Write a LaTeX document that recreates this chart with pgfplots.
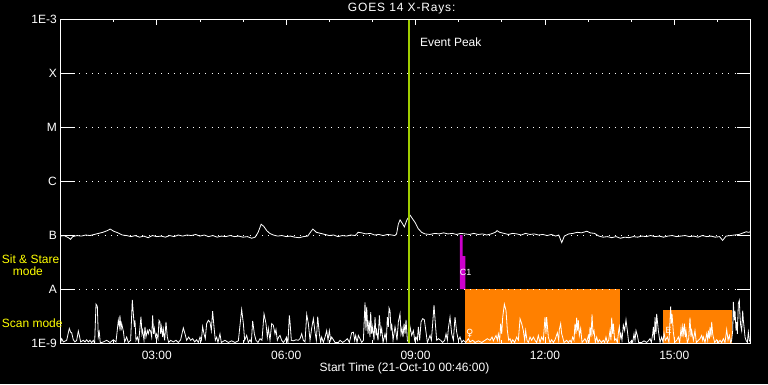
\documentclass[border=0pt]{standalone}
\usepackage{fontspec}
\setmainfont{Liberation Sans}
\newfontfamily\dejavu{DejaVu Sans}
\usepackage{pgfplots}
\pgfplotsset{compat=1.18}
\definecolor{evgreen}{RGB}{160,204,0}
\definecolor{magC}{RGB}{204,0,204}
\definecolor{orC}{RGB}{255,128,0}
\definecolor{yelC}{RGB}{255,255,0}
\newcommand{\fs}{\fontsize{12}{14}\selectfont}
\begin{document}
\begin{tikzpicture}
\path[use as bounding box, fill=black] (0,0) rectangle (768pt,384pt);
\begin{axis}[
  at={(60.5pt,41pt)}, anchor=south west,
  scale only axis, width=690pt, height=324pt,
  xmin=0.767, xmax=16.767, ymin=-9, ymax=-3,
  enlargelimits=false, axis on top,
  axis line style={white, line width=0.8pt},
  tick style={draw=none},
  xtick={3,6,9,12,15},
  xticklabels={03:00,06:00,09:00,12:00,15:00},
  ytick={-9,-8,-7,-6,-5,-4,-3},
  yticklabels={1E-9,A,B,C,M,X,1E-3},
  tick label style={font=\fs, text=white},
  xticklabel style={anchor=center, inner sep=0pt, yshift=-12pt},
  yticklabel style={anchor=east, inner sep=0pt, xshift=-3.5pt},
  ymajorgrids=true,
  major grid style={white, line width=0.8pt, dash pattern=on 0.8pt off 5.5pt},
]
% orange and magenta blocks
\addplot[fill=orC, draw=none] coordinates {(10.147,-9) (10.147,-8) (13.734,-8) (13.734,-9)} -- cycle;
\addplot[fill=orC, draw=none] coordinates {(14.738,-9) (14.738,-8.389) (16.331,-8.389) (16.331,-9)} -- cycle;
\addplot[fill=magC, draw=none] coordinates {(10.03,-8) (10.03,-7.0) (10.09,-7.0) (10.09,-7.39) (10.155,-7.39) (10.155,-8)} -- cycle;
% GOES flux (log10 W/m^2)
\addplot[white, line width=0.8pt, sharp plot] coordinates {
(0.77,-7.02) (0.85,-7.01) (0.95,-7.05) (1.00,-7.08) (1.05,-7.03) (1.15,-7.01) (1.25,-7.02) (1.35,-7.00)
(1.45,-7.01) (1.55,-6.99) (1.65,-6.97) (1.75,-6.95) (1.85,-6.92) (1.92,-6.89) (2.00,-6.93) (2.10,-6.96)
(2.20,-7.00) (2.30,-7.01) (2.40,-7.03) (2.50,-7.01) (2.60,-7.04) (2.70,-7.02) (2.80,-7.05) (2.90,-7.01)
(3.00,-7.03) (3.10,-7.02) (3.20,-7.04) (3.30,-7.01) (3.40,-7.03) (3.50,-7.00) (3.60,-7.02) (3.70,-7.00)
(3.80,-7.01) (3.90,-6.99) (4.00,-7.02) (4.10,-7.00) (4.20,-7.03) (4.30,-7.01) (4.40,-7.04) (4.50,-7.02)
(4.60,-7.03) (4.70,-7.01) (4.80,-7.03) (4.90,-7.02) (5.00,-7.04) (5.10,-7.03) (5.20,-7.06) (5.28,-7.04)
(5.35,-6.95) (5.42,-6.80) (5.48,-6.84) (5.55,-6.92) (5.62,-6.97) (5.70,-7.00) (5.80,-7.02) (5.90,-7.01)
(6.00,-7.03) (6.10,-7.02) (6.20,-7.04) (6.30,-7.05) (6.40,-7.03) (6.50,-7.02) (6.58,-6.93) (6.62,-6.89)
(6.70,-6.95) (6.80,-6.97) (6.90,-6.99) (7.00,-7.01) (7.10,-7.00) (7.20,-7.03) (7.30,-7.01) (7.40,-7.02)
(7.50,-7.00) (7.60,-7.01) (7.67,-6.95) (7.75,-6.96) (7.85,-6.98) (7.95,-6.97) (8.05,-7.00) (8.15,-6.99)
(8.25,-7.01) (8.35,-6.99) (8.45,-7.00) (8.52,-7.01) (8.56,-6.98) (8.60,-6.80) (8.64,-6.72) (8.69,-6.78)
(8.74,-6.85) (8.80,-6.72) (8.87,-6.63) (8.93,-6.70) (8.99,-6.77) (9.06,-6.88) (9.14,-6.95) (9.22,-6.98)
(9.33,-6.99) (9.45,-6.97) (9.55,-6.98) (9.65,-6.96) (9.75,-6.98) (9.85,-6.97) (9.95,-6.99) (10.05,-6.97)
(10.15,-6.98) (10.25,-6.99) (10.35,-6.97) (10.45,-6.99) (10.55,-6.98) (10.65,-7.00) (10.75,-6.98) (10.85,-6.95)
(10.89,-6.92) (10.95,-6.95) (11.05,-6.97) (11.15,-6.99) (11.25,-6.97) (11.35,-6.98) (11.45,-7.00) (11.55,-6.97)
(11.65,-6.99) (11.75,-6.98) (11.85,-7.00) (11.95,-6.99) (12.05,-7.01) (12.15,-6.99) (12.25,-7.02) (12.32,-7.00)
(12.39,-7.14) (12.45,-7.02) (12.55,-6.98) (12.65,-6.97) (12.75,-6.95) (12.85,-6.96) (12.97,-6.93) (13.05,-6.96)
(13.15,-6.97) (13.25,-7.02) (13.35,-7.04) (13.45,-7.03) (13.55,-7.05) (13.65,-7.03) (13.75,-7.06) (13.85,-7.04)
(13.95,-7.05) (14.05,-7.03) (14.15,-7.04) (14.25,-7.02) (14.35,-7.03) (14.45,-7.01) (14.55,-7.03) (14.65,-7.02)
(14.75,-7.04) (14.85,-7.02) (14.95,-7.01) (15.05,-7.03) (15.15,-7.02) (15.25,-7.01) (15.35,-7.03) (15.45,-7.02)
(15.55,-7.04) (15.65,-7.01) (15.75,-7.03) (15.85,-7.02) (15.95,-7.04) (16.05,-7.03) (16.12,-7.10) (16.20,-7.02)
(16.30,-7.01) (16.40,-7.00) (16.50,-6.99) (16.60,-6.96) (16.67,-6.94) (16.72,-6.95) (16.767,-6.94)
};
% scan-mode spikes
\addplot[white, line width=0.8pt, sharp plot] coordinates {
(0.767,-9) (0.794,-8.92) (0.832,-8.98) (0.910,-8.95) (0.971,-8.73) (1.002,-8.80) (1.026,-8.81) (1.064,-8.94)
(1.103,-8.98) (1.142,-8.95) (1.180,-8.78) (1.204,-8.86) (1.234,-8.98) (1.296,-8.95) (1.335,-8.98) (1.373,-8.94)
(1.412,-8.98) (1.451,-8.95) (1.489,-8.99) (1.528,-8.95) (1.559,-9) (1.590,-8.28) (1.621,-8.32) (1.644,-8.89)
(1.667,-8.80) (1.690,-9) (1.760,-8.98) (1.837,-8.95) (1.915,-8.99) (1.992,-8.94) (2.054,-8.98) (2.108,-8.58)
(2.131,-8.70) (2.146,-8.49) (2.170,-8.77) (2.185,-8.64) (2.224,-8.78) (2.255,-8.98) (2.301,-8.89) (2.340,-8.99)
(2.394,-8.95) (2.432,-8.20) (2.456,-8.46) (2.479,-8.70) (2.494,-8.58) (2.517,-8.95) (2.548,-8.89) (2.579,-8.99)
(2.633,-8.51) (2.656,-8.83) (2.672,-8.77) (2.703,-8.95) (2.726,-8.70) (2.749,-8.89) (2.780,-8.77) (2.803,-8.83)
(2.827,-8.75) (2.857,-8.78) (2.881,-8.89) (2.904,-8.49) (2.927,-8.83) (2.943,-8.73) (2.974,-8.89) (2.997,-8.83)
(3.028,-8.92) (3.051,-8.58) (3.074,-8.61) (3.090,-8.83) (3.113,-8.70) (3.136,-8.89) (3.152,-8.75) (3.182,-8.95)
(3.213,-8.61) (3.244,-8.89) (3.275,-8.99) (3.321,-8.95) (3.383,-8.98) (3.445,-8.95) (3.499,-8.99) (3.553,-8.94)
(3.615,-8.72) (3.654,-8.83) (3.692,-8.95) (3.739,-8.89) (3.785,-8.95) (3.832,-8.92) (3.878,-8.98) (3.924,-8.94)
(3.963,-8.99) (4.002,-8.89) (4.033,-8.95) (4.063,-8.70) (4.094,-8.83) (4.125,-8.92) (4.156,-8.64) (4.195,-8.58)
(4.233,-8.61) (4.264,-8.77) (4.295,-8.41) (4.326,-8.70) (4.357,-8.95) (4.388,-8.89) (4.419,-8.99) (4.465,-8.83)
(4.496,-8.99) (4.581,-8.95) (4.659,-8.99) (4.736,-8.96) (4.813,-8.99) (4.891,-8.96) (4.968,-8.38) (5.007,-8.64)
(5.037,-8.95) (5.084,-8.86) (5.122,-8.99) (5.161,-8.94) (5.192,-8.99) (5.223,-8.59) (5.262,-8.83) (5.300,-8.95)
(5.347,-8.99) (5.393,-8.92) (5.439,-8.95) (5.486,-8.46) (5.532,-8.64) (5.563,-8.89) (5.586,-8.73) (5.625,-8.95)
(5.664,-8.64) (5.702,-8.67) (5.741,-8.83) (5.764,-8.75) (5.795,-8.95) (5.826,-8.89) (5.857,-8.86) (5.895,-8.95)
(5.934,-8.99) (5.973,-8.95) (6.011,-8.89) (6.042,-8.99) (6.073,-8.49) (6.089,-8.61) (6.120,-8.95) (6.166,-8.96)
(6.228,-8.94) (6.282,-8.95) (6.321,-8.92) (6.360,-8.83) (6.398,-8.95) (6.437,-8.98) (6.476,-8.47) (6.514,-8.64)
(6.553,-8.95) (6.591,-8.73) (6.630,-8.55) (6.669,-8.80) (6.700,-8.95) (6.731,-8.51) (6.769,-8.83) (6.800,-8.99)
(6.823,-8.89) (6.862,-8.99) (6.901,-8.89) (6.939,-8.77) (6.970,-8.95) (7.001,-8.77) (7.032,-8.95) (7.055,-8.89)
(7.094,-8.94) (7.133,-8.99) (7.210,-8.99) (7.249,-8.95) (7.310,-8.99) (7.364,-8.96) (7.419,-8.92) (7.465,-8.99)
(7.519,-8.81) (7.558,-8.80) (7.589,-8.95) (7.612,-8.86) (7.643,-8.99) (7.674,-8.86) (7.712,-8.92) (7.751,-8.99)
(7.790,-8.95) (7.828,-8.25) (7.851,-8.77) (7.867,-8.33) (7.898,-8.83) (7.921,-8.58) (7.944,-8.89) (7.960,-8.43)
(7.983,-8.83) (8.006,-8.70) (8.037,-8.95) (8.060,-8.52) (8.083,-8.86) (8.099,-8.77) (8.130,-8.95) (8.161,-8.49)
(8.192,-8.83) (8.215,-8.73) (8.246,-8.99) (8.292,-8.83) (8.323,-8.95) (8.346,-8.52) (8.369,-8.70) (8.385,-8.35)
(8.408,-8.40) (8.431,-8.77) (8.447,-8.64) (8.478,-8.95) (8.524,-8.70) (8.547,-8.80) (8.570,-8.95) (8.601,-8.61)
(8.640,-8.46) (8.663,-8.83) (8.686,-8.73) (8.709,-8.89) (8.733,-8.64) (8.756,-8.83) (8.779,-8.57) (8.810,-8.95)
(8.841,-8.99) (8.872,-8.70) (8.910,-8.86) (8.949,-8.77) (8.980,-8.95) (9.011,-8.89) (9.042,-8.95) (9.065,-8.70)
(9.096,-8.95) (9.127,-8.61) (9.166,-8.55) (9.204,-8.57) (9.243,-8.80) (9.274,-8.99) (9.336,-8.86) (9.367,-8.95)
(9.397,-8.64) (9.428,-8.30) (9.459,-8.64) (9.490,-8.95) (9.529,-8.92) (9.583,-8.95) (9.629,-8.99) (9.676,-8.95)
(9.707,-8.83) (9.738,-8.95) (9.761,-8.73) (9.799,-8.52) (9.838,-8.83) (9.877,-8.95) (9.915,-8.52) (9.954,-8.80)
(9.993,-8.95) (10.031,-8.89) (10.070,-8.99) (10.109,-8.95) (10.163,-8.99) (10.225,-8.92) (10.263,-8.98) (10.325,-8.95)
(10.379,-8.99) (10.456,-8.96) (10.534,-8.99) (10.611,-8.95) (10.665,-8.92) (10.727,-8.95) (10.773,-8.89) (10.804,-8.96)
(10.866,-8.86) (10.897,-8.95) (10.920,-8.83) (10.951,-8.95) (10.974,-8.64) (10.998,-8.83) (11.021,-8.52) (11.059,-8.28)
(11.098,-8.40) (11.129,-8.77) (11.160,-8.95) (11.191,-8.92) (11.222,-8.99) (11.253,-8.94) (11.299,-8.99) (11.345,-8.89)
(11.384,-8.95) (11.423,-8.55) (11.461,-8.64) (11.499,-8.77) (11.530,-8.95) (11.553,-8.77) (11.584,-8.95) (11.615,-8.99)
(11.654,-8.89) (11.693,-8.95) (11.731,-8.89) (11.770,-8.95) (11.809,-8.99) (11.847,-8.86) (11.886,-8.99) (11.924,-8.89)
(11.963,-8.95) (12.002,-8.52) (12.025,-8.83) (12.040,-8.52) (12.079,-8.89) (12.118,-8.99) (12.156,-8.94) (12.195,-8.99)
(12.234,-8.94) (12.288,-8.81) (12.319,-8.95) (12.334,-8.75) (12.365,-8.64) (12.388,-8.83) (12.411,-8.89) (12.442,-8.99)
(12.504,-8.95) (12.543,-8.99) (12.582,-8.95) (12.612,-8.99) (12.643,-8.89) (12.674,-8.95) (12.697,-8.64) (12.721,-8.83)
(12.736,-8.53) (12.759,-8.77) (12.775,-8.58) (12.798,-8.86) (12.829,-8.73) (12.860,-8.99) (12.929,-8.92) (12.968,-8.99)
(13.007,-8.86) (13.030,-8.95) (13.045,-8.70) (13.068,-8.89) (13.092,-8.47) (13.115,-8.83) (13.138,-8.77) (13.169,-8.99)
(13.200,-8.89) (13.231,-8.99) (13.262,-8.94) (13.308,-8.99) (13.355,-8.95) (13.385,-8.99) (13.416,-8.89) (13.447,-8.99)
(13.478,-8.95) (13.509,-8.77) (13.532,-8.95) (13.548,-8.53) (13.571,-8.83) (13.586,-8.64) (13.617,-8.95) (13.648,-8.92)
(13.679,-8.99) (13.710,-8.77) (13.726,-8.70) (13.749,-8.89) (13.764,-8.83) (13.787,-8.95) (13.818,-8.67) (13.849,-8.77)
(13.880,-8.57) (13.911,-8.77) (13.942,-8.99) (13.973,-8.99) (14.012,-8.95) (14.035,-8.99) (14.066,-8.83) (14.089,-8.95)
(14.112,-8.77) (14.143,-8.86) (14.174,-8.99) (14.244,-8.99) (14.298,-8.96) (14.359,-8.99) (14.398,-8.96) (14.437,-8.92)
(14.468,-8.99) (14.499,-8.83) (14.514,-8.70) (14.537,-8.95) (14.553,-8.52) (14.576,-8.83) (14.591,-8.46) (14.614,-8.64)
(14.630,-8.77) (14.669,-8.99) (14.707,-8.89) (14.738,-8.99) (14.761,-8.81) (14.792,-8.95) (14.839,-8.89) (14.877,-8.99)
(14.916,-8.32) (14.931,-8.64) (14.947,-8.46) (14.978,-8.80) (15.009,-8.99) (15.055,-8.95) (15.094,-8.89) (15.125,-8.99)
(15.156,-8.73) (15.179,-8.89) (15.194,-8.70) (15.217,-8.83) (15.233,-8.64) (15.256,-8.89) (15.271,-8.77) (15.302,-8.99)
(15.333,-8.92) (15.364,-8.53) (15.387,-8.89) (15.403,-8.77) (15.442,-8.95) (15.480,-8.77) (15.511,-8.99) (15.558,-8.95)
(15.596,-8.92) (15.635,-8.86) (15.658,-8.95) (15.674,-8.89) (15.712,-8.99) (15.751,-8.83) (15.774,-8.95) (15.789,-8.77)
(15.813,-8.92) (15.828,-8.70) (15.851,-8.89) (15.867,-8.61) (15.890,-8.83) (15.905,-8.89) (15.936,-8.99) (15.983,-8.94)
(16.021,-8.99) (16.060,-8.95) (16.099,-8.99) (16.137,-8.92) (16.176,-8.99) (16.215,-8.75) (16.246,-8.95) (16.276,-8.86)
(16.307,-8.99) (16.330,-8.95) (16.354,-8.77) (16.369,-8.24) (16.392,-8.58) (16.408,-8.40) (16.431,-8.77) (16.447,-8.61)
(16.462,-8.83) (16.485,-8.27) (16.508,-8.21) (16.524,-8.52) (16.539,-8.67) (16.562,-8.77) (16.586,-8.40) (16.601,-8.58)
(16.617,-8.70) (16.640,-8.89) (16.663,-8.95) (16.694,-8.99) (16.717,-8.80) (16.740,-8.95) (16.767,-8.99)
};
% event peak marker
\addplot[evgreen, line width=2.2pt] coordinates {(8.848,-9) (8.848,-3)};
\node[anchor=west, inner sep=0pt, text=white, font=\fs] at (axis cs:9.10,-3.435) {Event Peak};
\node[inner sep=0pt, text=white, font=\fontsize{9}{10}\selectfont] at (axis cs:10.16,-7.685) {C1};
\node[inner sep=0pt, text=white, font=\dejavu\fontsize{10}{11}\selectfont] at (axis cs:10.26,-8.83) {♀};
\node[inner sep=0pt, text=white, font=\fontsize{9}{10}\selectfont] at (axis cs:14.87,-8.76) {E};
% tick marks
\pgfplotsinvokeforeach{-8,-7,-6,-5,-4}{
  \draw[white, line width=0.8pt] (axis cs:0.767,#1) -- ++(14pt,0pt);
  \draw[white, line width=0.8pt] (axis cs:16.767,#1) -- ++(-14pt,0pt);
}
\pgfplotsinvokeforeach{2,4,5,7,8,10,11,13,14,16}{
  \draw[white, line width=0.8pt] (axis cs:#1,-3) -- ++(0pt,-3.3pt);
  \draw[white, line width=0.8pt] (axis cs:#1,-9) -- ++(0pt,3.3pt);
}
\pgfplotsinvokeforeach{3,6,9,12,15}{
  \draw[white, line width=0.8pt] (axis cs:#1,-3) -- ++(0pt,-5.7pt);
  \draw[white, line width=0.8pt] (axis cs:#1,-9) -- ++(0pt,5.7pt);
}
\end{axis}
\node[text=white, font=\fs\addfontfeature{LetterSpace=7}, inner sep=0pt] at (401.7pt,375pt) {GOES 14 X-Rays:};
\node[text=white, font=\fs, inner sep=0pt] at (404.5pt,16pt) {Start Time (21-Oct-10 00:46:00)};
\node[text=yelC, font=\fs, inner sep=0pt, anchor=west] at (1.7pt,125pt) {Sit \& Stare};
\node[text=yelC, font=\fs, inner sep=0pt, anchor=west] at (12.7pt,113pt) {mode};
\node[text=yelC, font=\fs, inner sep=0pt, anchor=west] at (1.7pt,61pt) {Scan mode};
\end{tikzpicture}
\end{document}
